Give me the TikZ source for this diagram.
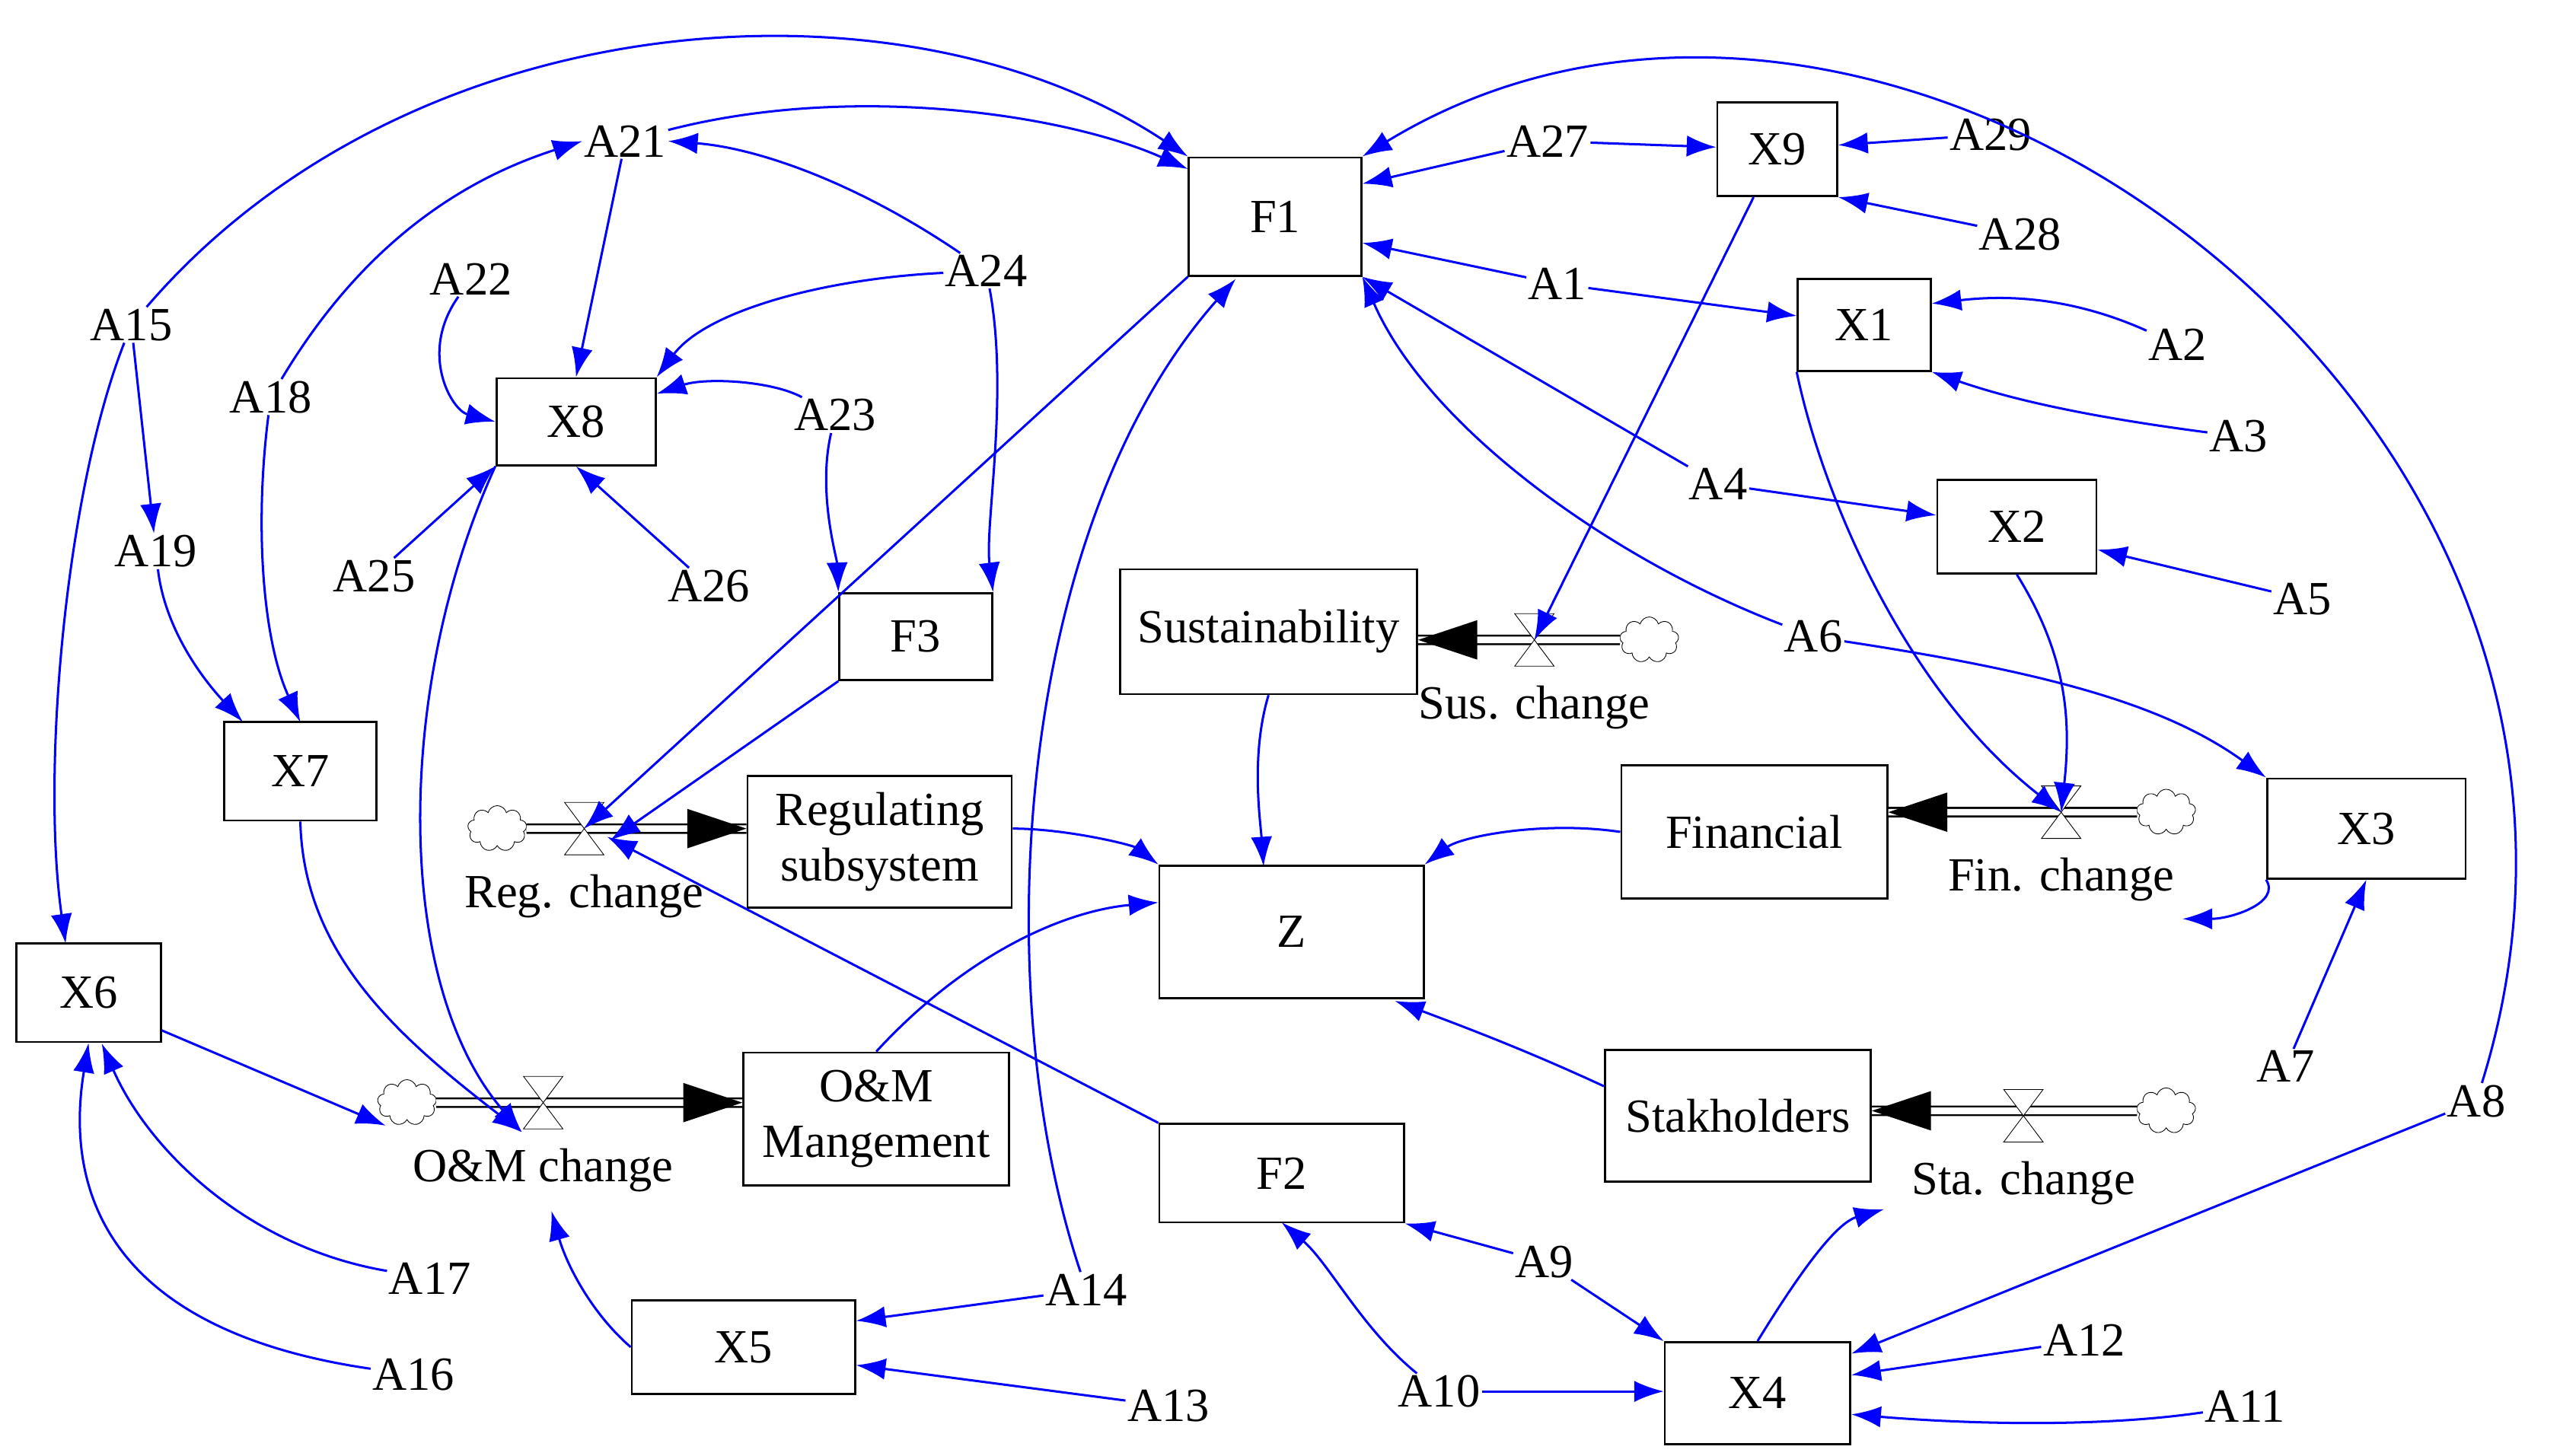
\documentclass[tikz,border=0pt]{standalone}
\usepackage{fontspec}
\setmainfont{Liberation Serif}
\usetikzlibrary{arrows.meta,shapes.symbols}
\begin{document}
\begin{tikzpicture}[x=1pt,y=-1pt,
 box/.style={draw,line width=1.3pt,minimum width=#1,inner sep=0pt,align=center,font=\fontsize{29}{34}\selectfont},
 lab/.style={inner sep=1pt,font=\fontsize{29}{34}\selectfont},
 ar/.style={draw=blue,line width=1.4pt,-{Latex[length=18pt,width=13pt]}},
 pipe/.style={draw,double,double distance=4pt,line width=1.2pt},
 cl/.style={cloud,cloud puffs=9,draw,thin,minimum width=36pt,minimum height=28pt,inner sep=0pt}]
\useasboundingbox (0,0) rectangle (1560,887);
\def\bx(#1,#2,#3,#4,#5,#6){\node[box=#4pt,minimum height=#5pt] (#1) at (#2,#3) {#6};}
\bx(F1,777,132,105,72,F1)
\bx(X9,1083,91,73,57,X9)
\bx(X1,1136,198,81,56,X1)
\bx(X2,1229,321,97,57,X2)
\bx(X3,1442,505,121,61,X3)
\bx(X8,351,257,97,53,X8)
\bx(F3,558,388,93,53,F3)
\bx(X7,183,470,93,60,X7)
\bx(X6,54,605,88,60,X6)
\bx(Sus,773,385,181,76,Sustainability)
\bx(Reg,536,513,161,80,Regulating\\subsystem)
\bx(Z,787,568,161,81,Z)
\bx(Fin,1069,507,162,81,Financial)
\bx(OM,534,682,162,81,O\&M\\Mangement)
\bx(Sta,1059,680,162,80,Stakholders)
\bx(F2,781,715,149,60,F2)
\bx(X5,453,821,136,57,X5)
\bx(X4,1071,849,113,62,X4)
\foreach \n/\x/\y in {A21/381/86,A22/287/170,A24/601/165,A23/509/253,A25/228/351,A26/432/357,A15/80/198,A18/165/242,A19/95/336,A27/943/86,A29/1213/82,A28/1231/143,A1/949/173,A2/1327/210,A3/1364/266,A4/1047/295,A5/1403/365,A6/1105/388,A7/1393/650,A8/1509/671,A9/941/769,A10/877/848,A12/1270/817,A11/1368/857,A14/662/786,A13/712/857,A17/262/779,A16/252/838}
 \node[lab] (\n) at (\x,\y) {\n};
\def\valve#1#2#3#4{%
 \coordinate (#1) at (#2,#3);
 \draw[thin,fill=white] (#2-12,#3-16)--(#2+12,#3-16)--(#2-12,#3+16)--(#2+12,#3+16)--cycle;
 \node[lab] (#1l) at (#2,#3+41) {#4};}
\node[cl] (cSus) at (1005,390) {};
\node[cl] (cReg) at (303,505) {};
\node[cl] (cFin) at (1320,495) {};
\node[cl] (cOM) at (248,672) {};
\node[cl] (cSta) at (1320,677) {};
\draw[pipe] (cSus.west) -- (Sus.east|-cSus);
\draw[pipe] (cReg.east) -- (Reg.west|-cReg);
\draw[pipe] (cFin.west) -- (Fin.east|-cFin);
\draw[pipe] (cOM.east) -- (OM.west|-cOM);
\draw[pipe] (cSta.west) -- (Sta.east|-cSta);
\fill (Sus.east|-cSus) -- ++(36,-12) -- ++(0,24) -- cycle;
\fill (Reg.west|-cReg) -- ++(-36,-12) -- ++(0,24) -- cycle;
\fill (Fin.east|-cFin) -- ++(36,-12) -- ++(0,24) -- cycle;
\fill (OM.west|-cOM) -- ++(-36,-12) -- ++(0,24) -- cycle;
\fill (Sta.east|-cSta) -- ++(36,-12) -- ++(0,24) -- cycle;
\valve{vSus}{935}{390}{Sus. change}
\valve{vReg}{356}{505}{Reg. change}
\valve{vFin}{1256}{495}{Fin. change}
\valve{vOM}{331}{672}{O\&M change}
\valve{vSta}{1233}{680}{Sta. change}
\coordinate (tF1a) at (753,170);
\coordinate (tX6a) at (62,636);
\coordinate (tX6b) at (40,575);
\coordinate (tX7a) at (148,440);
\coordinate (tZa) at (770,528);
\coordinate (tFinc) at (1330,560);
\coordinate (tStac) at (1148,737);
\coordinate (tOMc) at (336,738);
\coordinate (tOMv1) at (235,686);
\coordinate (tOMv2) at (318,690);
\coordinate (tRv1) at (372,512);
\coordinate (tRv2) at (370,510);
\coordinate (tZb) at (850,610);
\path[ar] (A15) .. controls (250,0) and (550,-20) .. (F1.north west);
\path[ar] (A21) .. controls (520,50) and (650,70) .. (F1.west|-0,103);
\path[ar] (A27) -- (F1.east|-0,112);
\path[ar] (A27) -- (X9);
\path[ar] (X9) -- (vSus);
\path[ar] (A29) -- (X9);
\path[ar] (A28) -- (X9.south east);
\path[ar] (A1) -- (F1.east|-0,148);
\path[ar] (A1) -- (X1);
\path[ar] (A2) .. controls (1260,180) and (1220,180) .. (X1.east|-0,185);
\path[ar] (A3) .. controls (1280,255) and (1230,245) .. (X1.south east);
\path[ar] (A4) -- (F1.south east);
\path[ar] (A4) -- (X2);
\path[ar] (A5) -- (X2.east|-0,335);
\path[ar] (A6) .. controls (980,340) and (870,260) .. (F1.south east);
\path[ar] (A6) .. controls (1250,410) and (1320,430) .. (X3.north west);
\path[ar] (X1.south west) .. controls (1110,300) and (1160,420) .. (vFin);
\path[ar] (X2.south) .. controls (1260,400) and (1262,440) .. (vFin);
\path[ar] (X3.south west) .. controls (1390,550) and (1360,560) .. (tFinc);
\path[ar] (A7) -- (X3.south);
\path[ar] (A8) .. controls (1640,250) and (1150,-100) .. (F1.north east);
\path[ar] (A8) -- (X4.east|-0,825);
\path[ar] (A9) -- (F2.south east);
\path[ar] (A9) -- (X4.north west);
\path[ar] (A10) .. controls (830,810) and (810,770) .. (F2.south|-0,745);
\path[ar] (A10) -- (X4.west|-0,848);
\path[ar] (A12) -- (X4.east|-0,838);
\path[ar] (A11) .. controls (1280,870) and (1200,868) .. (X4.east|-0,862);
\path[ar] (X4.north) .. controls (1100,770) and (1120,745) .. (tStac);
\path[ar] (A14) .. controls (600,600) and (620,320) .. (tF1a);
\path[ar] (A14) -- (X5.east|-0,805);
\path[ar] (A13) -- (X5.east|-0,832);
\path[ar] (X5.west) .. controls (360,800) and (345,770) .. (tOMc);
\path[ar] (A17) .. controls (150,760) and (90,700) .. (tX6a);
\path[ar] (A16) .. controls (60,810) and (40,720) .. (X6.south);
\path[ar] (X6.east|-0,628) -- (tOMv1);
\path[ar] (X7.south) .. controls (185,580) and (240,630) .. (tOMv2);
\path[ar] (X8.south west) .. controls (240,420) and (240,600) .. (tOMv2);
\path[ar] (A15) -- (A19);
\path[ar] (A15) .. controls (40,300) and (25,470) .. (tX6b);
\path[ar] (A19) .. controls (100,380) and (120,410) .. (tX7a);
\path[ar] (A18) .. controls (220,150) and (280,110) .. (A21.west);
\path[ar] (A18) .. controls (155,320) and (160,390) .. (X7.north|-0,440);
\path[ar] (A21) -- (X8.north);
\path[ar] (A24) .. controls (520,110) and (460,90) .. (A21.east);
\path[ar] (A24) .. controls (500,170) and (430,190) .. (X8.north east);
\path[ar] (A24) .. controls (615,240) and (600,320) .. (F3.north east);
\path[ar] (A22) .. controls (255,215) and (275,250) .. (X8.west);
\path[ar] (A23) .. controls (470,232) and (430,230) .. (X8.east|-0,240);
\path[ar] (A23) .. controls (498,300) and (510,340) .. (F3.north west);
\path[ar] (A25) -- (X8.south west);
\path[ar] (A26) -- (X8.south);
\path[ar] (F1.south west) -- (vReg);
\path[ar] (F3.south west) -- (tRv1);
\path[ar] (F2.north west) -- (tRv2);
\path[ar] (Sus.south) .. controls (762,460) and (768,500) .. (tZa);
\path[ar] (Reg.east|-0,505) .. controls (650,505) and (690,515) .. (Z.north west);
\path[ar] (OM.north) .. controls (590,580) and (650,555) .. (Z.west|-0,550);
\path[ar] (Fin.west) .. controls (940,500) and (890,510) .. (Z.north east);
\path[ar] (Sta.west|-0,662) .. controls (930,640) and (890,625) .. (tZb);
\end{tikzpicture}
\end{document}
